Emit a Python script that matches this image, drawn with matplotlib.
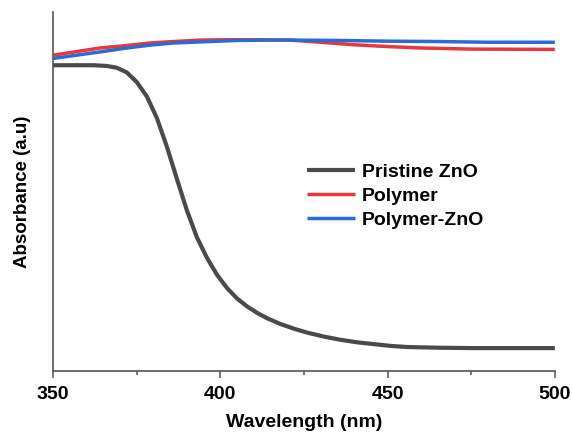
import matplotlib
matplotlib.use("Agg")
import matplotlib.pyplot as plt
from matplotlib.ticker import MultipleLocator

plt.rcParams['font.family'] = ['Liberation Sans', 'DejaVu Sans']
plt.rcParams['font.weight'] = 'bold'

# Pristine ZnO absorbance (a.u.)
wl_zno = [350, 362, 366, 369, 372, 375, 378, 381, 384, 387, 390, 393, 396, 399,
          402, 405, 408, 411, 414, 418, 422, 426, 431, 436, 441, 446, 451, 456,
          466, 476, 500]
abs_zno = [0.852, 0.852, 0.850, 0.845, 0.832, 0.805, 0.765, 0.705, 0.625, 0.535,
           0.447, 0.372, 0.315, 0.268, 0.231, 0.202, 0.180, 0.162, 0.147, 0.131,
           0.118, 0.107, 0.096, 0.087, 0.080, 0.075, 0.070, 0.067, 0.065, 0.064,
           0.064]

# Polymer
wl_pol = [350, 357, 364, 372, 379, 386, 394, 402, 410, 421, 430, 440, 450, 460, 475, 500]
abs_pol = [0.880, 0.890, 0.900, 0.907, 0.914, 0.918, 0.922, 0.923, 0.923, 0.922,
           0.916, 0.909, 0.904, 0.900, 0.897, 0.896]

# Polymer-ZnO
wl_pz = [350, 357, 364, 372, 379, 386, 394, 405, 415, 421, 435, 450, 465, 480, 500]
abs_pz = [0.871, 0.880, 0.889, 0.900, 0.908, 0.914, 0.917, 0.921, 0.922, 0.922,
          0.921, 0.919, 0.918, 0.916, 0.916]

fig = plt.figure(figsize=(5.72, 4.32), dpi=100)
ax = fig.add_axes([0.093, 0.141, 0.877, 0.831])

line_kw = dict(solid_joinstyle='round', solid_capstyle='butt')
ax.plot(wl_zno, abs_zno, color='#4a4a4a', lw=3.0, label='Pristine ZnO', **line_kw)
ax.plot(wl_pol, abs_pol, color='#e5383f', lw=2.5, label='Polymer', **line_kw)
ax.plot(wl_pz, abs_pz, color='#2a6cd4', lw=2.5, label='Polymer-ZnO', **line_kw)

ax.set_xlim(350, 500)
ax.set_ylim(0, 1)
ax.set_xticks([350, 400, 450, 500])
ax.xaxis.set_minor_locator(MultipleLocator(25))
ax.set_yticks([])
for side in ['top', 'right']:
    ax.spines[side].set_visible(False)
for side in ['left', 'bottom']:
    ax.spines[side].set_color('#555555')
    ax.spines[side].set_linewidth(1.2)
ax.tick_params(axis='x', which='major', length=5, width=1.1, color='#555555',
               labelsize=14, pad=6)
ax.tick_params(axis='x', which='minor', length=3, width=1.1, color='#555555')
for t in ax.get_xticklabels():
    t.set_fontweight('bold')

ax.set_xlabel('Wavelength (nm)', fontsize=14, fontweight='bold', labelpad=8)
ax.set_ylabel('Absorbance (a.u)', fontsize=13.5, fontweight='bold', labelpad=16)

ax.legend(loc='upper left', bbox_to_anchor=(0.49, 0.6), frameon=False,
          prop={'size': 14, 'weight': 'bold'}, handlelength=2.5,
          handletextpad=0.35, labelspacing=0.32, borderaxespad=0)

fig.savefig('out.png', dpi=100)
